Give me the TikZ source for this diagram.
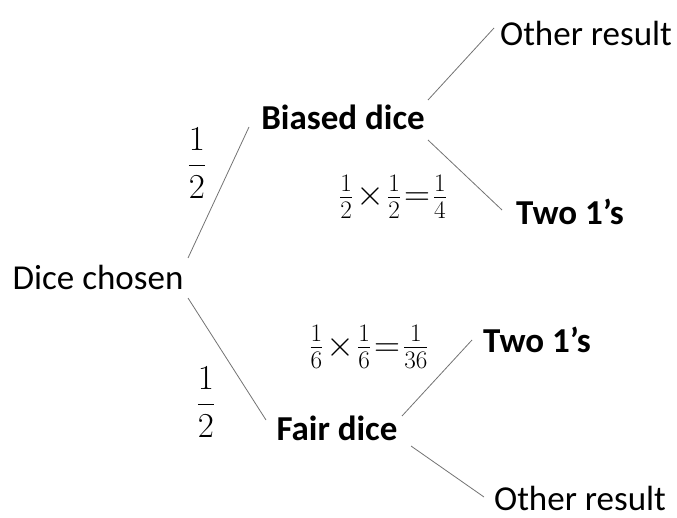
\RequirePackage{fix-cm}
\documentclass[tikz,border=0pt]{standalone}
\usepackage{fontspec}
\setmainfont{Carlito}
\newcommand{\tighteq}[1]{\medmuskip=1.5mu\relax\thickmuskip=1.5mu\relax$#1$}
\begin{document}
\begin{tikzpicture}[x=1pt,y=-1pt,
  lbl/.style={inner sep=0pt,font=\fontsize{35}{42}\selectfont},
  blbl/.style={inner sep=0pt,font=\fontsize{35}{42}\selectfont\bfseries},
  eqn/.style={inner sep=0pt,font=\fontsize{36}{42}\selectfont},
  branch/.style={draw=black!55,line width=0.8pt}]
\useasboundingbox (0,0) rectangle (677,518);
\node[lbl]  (root)  at (98,277) {Dice chosen};
\node[blbl] (biased) at (343,117) {Biased dice};
\node[blbl] (fair)   at (337,428) {Fair dice};
\node[lbl]  (oth1)  at (586,33) {Other result};
\node[blbl] (two1)  at (570,212) {Two 1’s};
\node[blbl] (two2)  at (537,340) {Two 1’s};
\node[lbl]  (oth2)  at (580,498) {Other result};
\node[lbl]  (p1) at (197,163) {$\displaystyle\frac{1}{2}$};
\node[lbl]  (p2) at (206,402) {$\displaystyle\frac{1}{2}$};
\node[eqn]  (e1) at (393,197) {\tighteq{\frac{1}{2}\times\frac{1}{2}=\frac{1}{4}}};
\node[eqn]  (e2) at (369,347) {\tighteq{\frac{1}{6}\times\frac{1}{6}=\frac{1}{36}}};
\coordinate (r1) at (188,258);
\coordinate (r2) at (188,298);
\coordinate (b0) at (249,127);
\coordinate (f0) at (266,420);
\coordinate (b1) at (428,100);
\coordinate (o1) at (494,28);
\coordinate (b2) at (428,140);
\coordinate (t1) at (502,210);
\coordinate (f1) at (402,416);
\coordinate (t2) at (472,340);
\coordinate (f2) at (411,446);
\coordinate (o2) at (484,497);
\draw[branch] (r1) -- (b0);
\draw[branch] (r2) -- (f0);
\draw[branch] (b1) -- (o1);
\draw[branch] (b2) -- (t1);
\draw[branch] (f1) -- (t2);
\draw[branch] (f2) -- (o2);
\end{tikzpicture}
\end{document}
